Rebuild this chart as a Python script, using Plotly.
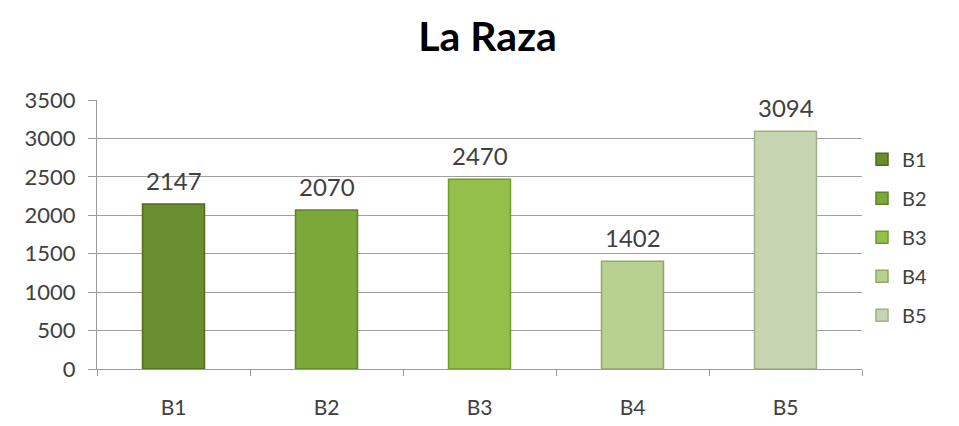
import plotly.graph_objects as go

categories = ['B1', 'B2', 'B3', 'B4', 'B5']
values = [2147, 2070, 2470, 1402, 3094]
colors = ['#6a8e2f', '#7ca83a', '#94bf4a', '#b9d190', '#c6d4b2']
edges = ['#4d6b1e', '#5d8426', '#6f9a2e', '#8fa866', '#a0b08a']

fig = go.Figure()
for i, (cat, val) in enumerate(zip(categories, values)):
    fig.add_trace(go.Bar(
        x=[cat], y=[val], name=cat, legendgroup=cat,
        width=0.405,
        marker=dict(color=colors[i], line=dict(color=edges[i], width=1.5)),
    ))
    fig.add_annotation(x=cat, y=val, text=str(val), showarrow=False,
                       yanchor='bottom', yshift=7,
                       font=dict(size=24, color='#404040', family='Lato'))

fig.update_layout(
    width=959, height=426,
    barmode='overlay',
    paper_bgcolor='white', plot_bgcolor='white',
    margin=dict(l=89, r=105, t=92, b=65),
    font=dict(family='Lato', color='#404040'),
    title=dict(text='<b>La Raza</b>', x=0.5, xanchor='center', y=0.932, yanchor='middle',
               font=dict(size=41, color='#000000', family='Lato')),
    legend=dict(x=1.0, xanchor='left', y=0.49, yanchor='middle',
                font=dict(size=20, color='#404040'), tracegroupgap=10,
                itemwidth=30),
    showlegend=True,
)
fig.update_xaxes(showline=True, linecolor='#9a9a9a', ticks='outside', ticklen=6,
                 tickcolor='#9a9a9a', tickson='boundaries',
                 tickfont=dict(size=21, color='#404040'), ticklabelstandoff=20)
fig.update_yaxes(range=[0, 3500], dtick=500, showline=True, linecolor='#9a9a9a',
                 ticks='outside', ticklen=8, tickcolor='#9a9a9a',
                 gridcolor='#a0a0a0', gridwidth=1, zeroline=False,
                 tickfont=dict(size=22, color='#404040'), ticklabelstandoff=8)

fig.write_html("out.html")
